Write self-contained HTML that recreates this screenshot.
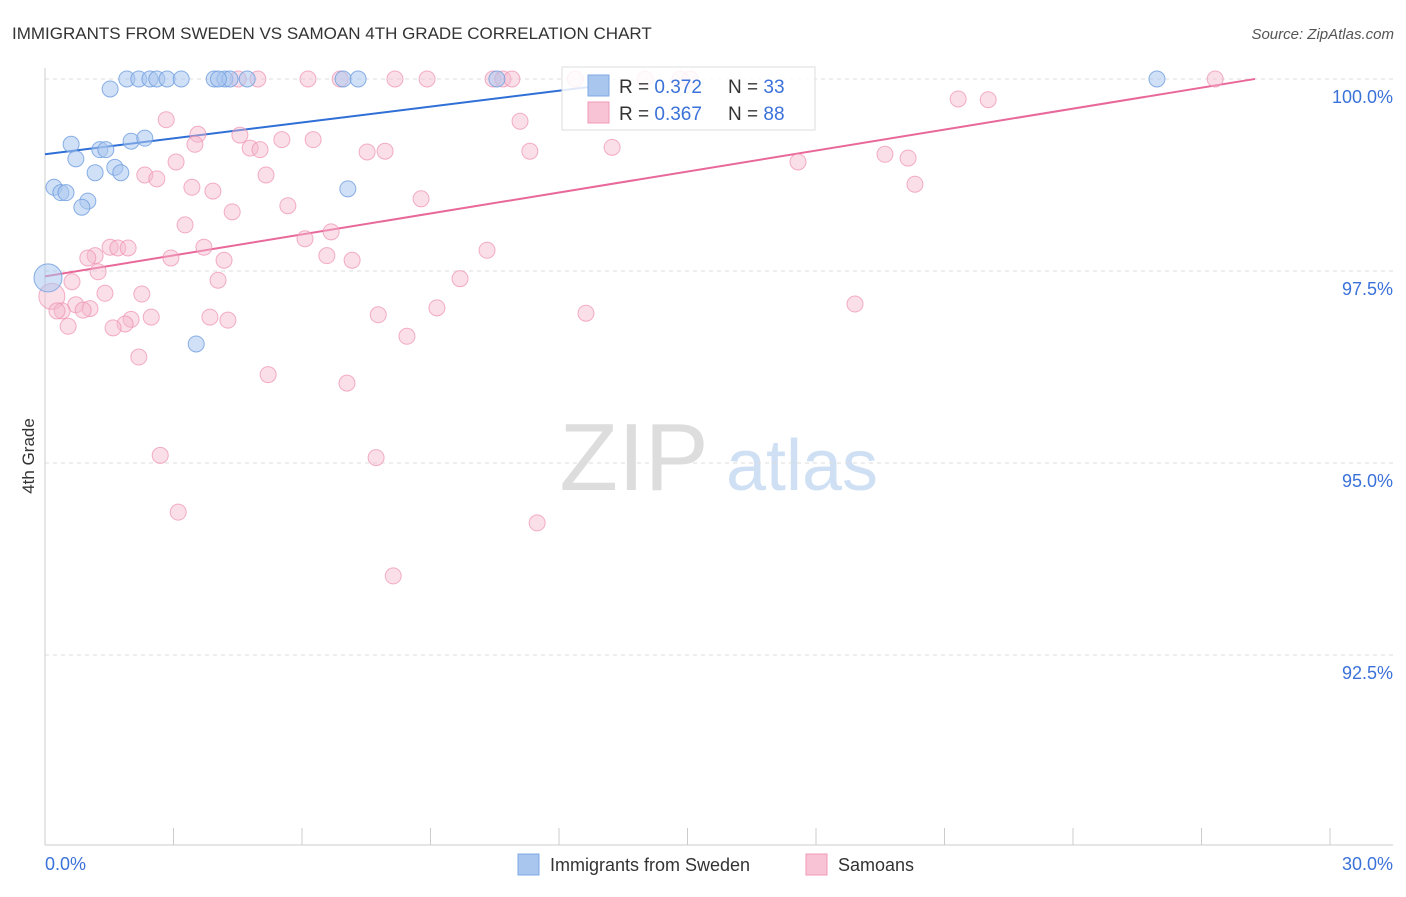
<!DOCTYPE html>
<html><head><meta charset="utf-8"><style>
body{margin:0;background:#fff;font-family:"Liberation Sans",sans-serif;}
svg text{font-family:"Liberation Sans",sans-serif;}
</style></head><body>
<svg id="chart" width="1406" height="892" viewBox="0 0 1406 892">
<text x="12" y="39" font-size="17" fill="#333">IMMIGRANTS FROM SWEDEN VS SAMOAN 4TH GRADE CORRELATION CHART</text>
<text x="1394" y="39" font-size="15" fill="#555" font-style="italic" text-anchor="end">Source: ZipAtlas.com</text>
<text x="34" y="456" font-size="17" fill="#333" text-anchor="middle" transform="rotate(-90 34 456)">4th Grade</text>
<g><text x="634" y="490" font-size="96" fill="#ddd" font-family="Liberation Serif,serif" text-anchor="middle">ZIP</text><text x="802" y="490" font-size="72" fill="#d0e0f4" text-anchor="middle">atlas</text></g>
<g id="grid"></g><g id="axes"></g><g id="lines"></g><g id="pts"></g>
<g>
<rect x="562" y="67" width="253" height="63" fill="#fff" fill-opacity="0.85" stroke="#ddd"/>
<rect x="588" y="75" width="21" height="21" fill="#a9c6ee" stroke="#7fa8e4"/>
<rect x="588" y="102" width="21" height="21" fill="#f8c3d4" stroke="#f09ab8"/>
<text x="619" y="93" font-size="19" fill="#333">R = <tspan fill="#3b72d9">0.372</tspan><tspan x="728">N = </tspan><tspan fill="#3b72d9">33</tspan></text>
<text x="619" y="120" font-size="19" fill="#333">R = <tspan fill="#3b72d9">0.367</tspan><tspan x="728">N = </tspan><tspan fill="#3b72d9">88</tspan></text>
</g>
<g>
<rect x="518" y="854" width="21" height="21" fill="#a9c6ee" stroke="#7fa8e4"/>
<text x="550" y="871" font-size="18" fill="#333">Immigrants from Sweden</text>
<rect x="806" y="854" width="21" height="21" fill="#f8c3d4" stroke="#f09ab8"/>
<text x="838" y="871" font-size="18" fill="#333">Samoans</text>
</g>
</svg>
<script>
const yTicks=[100,97.5,95,92.5];
const yTickLabels=["100.0%","97.5%","95.0%","92.5%"];
const xTicks=[0,3,6,9,12,15,18,21,24,27,30];
const xEndLabels=["0.0%","30.0%"];
const swedenX=[1.91,2.19,2.45,2.61,2.85,3.18,3.95,4.20,4.32,4.72,6.96,7.31,10.55,25.96,1.52,0.61,0.72,1.28,1.42,2.01,2.33,0.21,0.37,0.49,1.17,1.63,1.77,1.00,0.86,7.07,3.53,0.07,4.05];
const swedenY=[100,100,100,100,100,100,100,100,100,100,100,100,100,100,99.87,99.15,98.96,99.08,99.08,99.19,99.23,98.59,98.52,98.52,98.78,98.85,98.78,98.41,98.33,98.57,96.55,97.41,100];
const samoaX=[12.38,14.01,14.83,15.06,27.32,4.97,6.14,6.89,8.17,8.92,10.46,10.69,10.90,4.51,21.32,22.02,2.83,3.57,3.50,4.55,5.53,6.26,4.79,5.02,7.52,7.94,11.32,13.24,11.09,19.61,20.15,17.58,2.33,2.61,3.06,5.16,3.43,3.92,20.31,4.37,5.67,8.78,3.27,6.68,6.07,10.32,1.52,1.70,1.94,3.71,1.17,1.00,2.94,4.18,6.58,7.17,1.24,4.04,9.69,0.63,1.40,2.26,0.16,0.72,1.05,0.40,0.28,0.89,2.48,2.01,1.87,1.59,0.54,3.85,4.27,7.78,9.15,12.63,18.91,8.45,2.19,5.21,7.05,2.69,7.73,3.11,11.49,8.13];
const samoaY=[100,100,100,100,100,100,100,100,100,100,100,100,100,100,99.74,99.73,99.47,99.28,99.15,99.27,99.21,99.21,99.10,99.08,99.05,99.06,99.06,99.11,99.45,99.02,98.97,98.92,98.75,98.70,98.92,98.75,98.59,98.54,98.63,98.27,98.35,98.44,98.10,98.01,97.92,97.77,97.81,97.80,97.80,97.81,97.70,97.67,97.67,97.64,97.70,97.64,97.49,97.38,97.40,97.36,97.21,97.20,97.17,97.06,97.01,96.98,96.98,96.99,96.90,96.87,96.81,96.76,96.78,96.90,96.86,96.93,97.02,96.95,97.07,96.65,96.38,96.15,96.04,95.10,95.07,94.36,94.22,93.53];
const swedenTrend=[99.02,0.069,0,12.96];
const samoaTrend=[97.43,0.091,0,28.25];
const X=v=>45+v/30*1285;
const Y=v=>79+(100-v)*76.8;
const NS="http://www.w3.org/2000/svg";
function mk(tag,attrs,parent){const e=document.createElementNS(NS,tag);for(const k in attrs)e.setAttribute(k,attrs[k]);document.getElementById(parent).appendChild(e);return e;}
yTicks.forEach((t,i)=>{
 const l=mk('line',{x1:45,x2:1393,y1:Y(t),y2:Y(t),stroke:'#ddd','stroke-dasharray':'4,4'},'grid');
 
 
 const tx=mk('text',{x:1393,y:Y(t)+24,'font-size':18,fill:'#3b72d9','text-anchor':'end'},'grid');
 tx.textContent=yTickLabels[i];
 
 
});
const ax=mk('line',{x1:45,x2:1393,y1:845,y2:845,stroke:'#ccc'},'axes');


const ay=mk('line',{x1:45,x2:45,y1:68,y2:845,stroke:'#ccc'},'axes');


xTicks.forEach(t=>{
 const l=mk('line',{x1:X(t),x2:X(t),y1:828,y2:845,stroke:'#ccc'},'axes');
 
 
});
const xl0=mk('text',{x:45,y:870,'font-size':18,fill:'#3b72d9'},'axes');
xl0.textContent=xEndLabels[0];


const xl1=mk('text',{x:1393,y:870,'font-size':18,fill:'#3b72d9','text-anchor':'end'},'axes');
xl1.textContent=xEndLabels[1];


samoaX.forEach((x,i)=>{
 const c=mk('circle',{cx:X(x),cy:Y(samoaY[i]),r:(x<0.3&&samoaY[i]>97&&samoaY[i]<97.2)?13:8,fill:'#f5b8cb','fill-opacity':0.45,stroke:'#ee8fb0','stroke-opacity':0.7,'stroke-width':1},'pts');
 
 
});
swedenX.forEach((x,i)=>{
 const c=mk('circle',{cx:X(x),cy:Y(swedenY[i]),r:(x<0.1)?14:8,fill:'#a9c6ee','fill-opacity':0.55,stroke:'#6f9ee0','stroke-opacity':0.8,'stroke-width':1},'pts');
 
 
});
[[swedenTrend,'#2f6fd6','sweden-trend-line'],[samoaTrend,'#e8689a','samoans-trend-line']].forEach(([t,col,n])=>{
 const l=mk('line',{x1:X(t[2]),y1:Y(t[0]+t[1]*t[2]),x2:X(t[3]),y2:Y(t[0]+t[1]*t[3]),stroke:col,'stroke-width':2},'lines');
 
 
});
</script>
</body></html>
